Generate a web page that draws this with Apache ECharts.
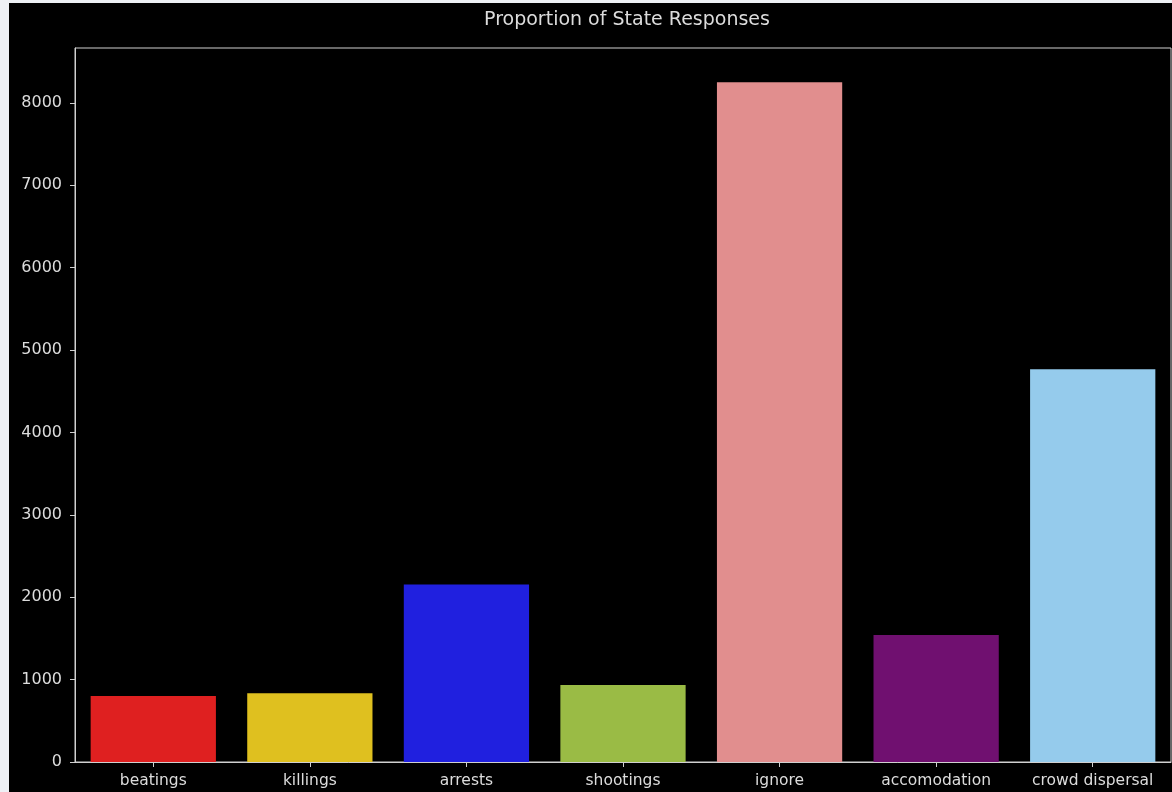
<!DOCTYPE html>
<html>
<head>
<meta charset="utf-8">
<script src="https://cdn.jsdelivr.net/npm/echarts@6/dist/echarts.min.js"></script>
<style>
  html, body { margin: 0; padding: 0; background: #eef0f5; width: 1172px; height: 792px; overflow: hidden; }
  #chart { position: absolute; left: 9px; top: 3px; width: 1163px; height: 789px; background: #000; }
</style>
</head>
<body>
<div id="chart"></div>
<script>
const categories = ['beatings', 'killings', 'arrests', 'shootings', 'ignore', 'accomodation', 'crowd dispersal'];
const counts = [800, 835, 2155, 935, 8250, 1540, 4765];
const barColors = ['#df2020', '#dfc01f', '#2020df', '#9abb45', '#e18e8e', '#701070', '#95cbec'];
const yTicks = [0, 1000, 2000, 3000, 4000, 5000, 6000, 7000, 8000];
const titleText = 'Proportion of State Responses';

const chart = echarts.init(document.getElementById('chart'), null, { renderer: 'canvas' });
const axisColor = '#d0d0d0';
const textColor = '#dcdcdc';
const fontFamily = '"DejaVu Sans", sans-serif';

chart.setOption({
  backgroundColor: '#000',
  animation: false,
  title: {
    text: titleText,
    left: 613,
    textAlign: 'center',
    top: 3,
    textStyle: { color: textColor, fontFamily: fontFamily, fontSize: 19, fontWeight: 'normal' }
  },
  grid: {
    left: 66, right: 1, top: 45, bottom: 30,
    show: true, borderColor: axisColor, borderWidth: 1, backgroundColor: 'transparent',
    containLabel: false
  },
  xAxis: {
    type: 'category',
    data: categories,
    axisLine: { show: true, lineStyle: { color: axisColor, width: 1 } },
    axisTick: { show: true, alignWithLabel: true, interval: 0, length: 5, lineStyle: { color: axisColor } },
    axisLabel: { color: textColor, fontFamily: fontFamily, fontSize: 15.5, margin: 11, interval: 0, hideOverlap: false },
    splitLine: { show: false }
  },
  yAxis: {
    type: 'value',
    min: 0,
    max: 8665,
    interval: 1000,
    axisLine: { show: true, lineStyle: { color: axisColor, width: 1 } },
    axisTick: { show: true, length: 5, lineStyle: { color: axisColor }, customValues: yTicks },
    axisLabel: { color: textColor, fontFamily: fontFamily, fontSize: 16, margin: 13, customValues: yTicks,
                 formatter: v => String(v) },
    splitLine: { show: false }
  },
  series: [{
    type: 'bar',
    data: counts.map((v, i) => ({ value: v, itemStyle: { color: barColors[i] } })),
    barCategoryGap: '20%'
  }]
});
</script>
</body>
</html>
